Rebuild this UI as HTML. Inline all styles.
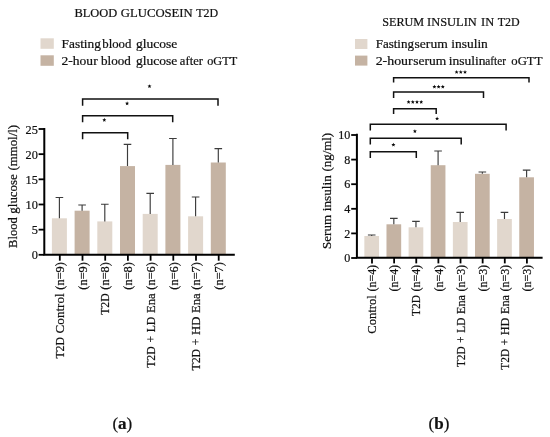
<!DOCTYPE html>
<html><head><meta charset="utf-8"><title>Figure</title>
<style>
html,body{margin:0;padding:0;background:#fff;}
body{width:550px;height:437px;overflow:hidden;font-family:"Liberation Serif",serif;}
svg{display:block;will-change:transform;}
svg text{font-family:"Liberation Serif",serif;fill:#111;}
</style></head>
<body>
<svg width="550" height="437" viewBox="0 0 550 437">
<rect width="550" height="437" fill="#ffffff"/>
<rect x="51.90" y="218.30" width="15.00" height="35.70" fill="#E1D7CD"/>
<path d="M59.40 218.30V197.50M55.60 197.50H63.20" stroke="#3c3c3c" stroke-width="1.15" fill="none"/>
<rect x="74.60" y="210.70" width="15.00" height="43.30" fill="#C5B3A3"/>
<path d="M82.10 210.70V205.00M78.30 205.00H85.90" stroke="#3c3c3c" stroke-width="1.15" fill="none"/>
<rect x="97.30" y="221.40" width="15.00" height="32.60" fill="#E1D7CD"/>
<path d="M104.80 221.40V204.20M101.00 204.20H108.60" stroke="#3c3c3c" stroke-width="1.15" fill="none"/>
<rect x="120.00" y="166.10" width="15.00" height="87.90" fill="#C5B3A3"/>
<path d="M127.50 166.10V144.40M123.70 144.40H131.30" stroke="#3c3c3c" stroke-width="1.15" fill="none"/>
<rect x="142.70" y="213.90" width="15.00" height="40.10" fill="#E1D7CD"/>
<path d="M150.20 213.90V193.40M146.40 193.40H154.00" stroke="#3c3c3c" stroke-width="1.15" fill="none"/>
<rect x="165.40" y="164.90" width="15.00" height="89.10" fill="#C5B3A3"/>
<path d="M172.90 164.90V138.50M169.10 138.50H176.70" stroke="#3c3c3c" stroke-width="1.15" fill="none"/>
<rect x="188.10" y="216.30" width="15.00" height="37.70" fill="#E1D7CD"/>
<path d="M195.60 216.30V197.00M191.80 197.00H199.40" stroke="#3c3c3c" stroke-width="1.15" fill="none"/>
<rect x="210.80" y="162.50" width="15.00" height="91.50" fill="#C5B3A3"/>
<path d="M218.30 162.50V148.60M214.50 148.60H222.10" stroke="#3c3c3c" stroke-width="1.15" fill="none"/>
<path d="M44.3 128.1V254.8H234.8" stroke="#000" stroke-width="2.0" fill="none"/>
<path d="M38.6 254.80H44.3" stroke="#000" stroke-width="1.8"/>
<text x="37.8" y="259.30" text-anchor="end" font-size="13.4" textLength="6.15" lengthAdjust="spacingAndGlyphs" stroke="#111" stroke-width="0.22">0</text>
<path d="M38.6 229.64H44.3" stroke="#000" stroke-width="1.8"/>
<text x="37.8" y="234.14" text-anchor="end" font-size="13.4" textLength="6.15" lengthAdjust="spacingAndGlyphs" stroke="#111" stroke-width="0.22">5</text>
<path d="M38.6 204.48H44.3" stroke="#000" stroke-width="1.8"/>
<text x="37.8" y="208.98" text-anchor="end" font-size="13.4" textLength="12.30" lengthAdjust="spacingAndGlyphs" stroke="#111" stroke-width="0.22">10</text>
<path d="M38.6 179.32H44.3" stroke="#000" stroke-width="1.8"/>
<text x="37.8" y="183.82" text-anchor="end" font-size="13.4" textLength="12.30" lengthAdjust="spacingAndGlyphs" stroke="#111" stroke-width="0.22">15</text>
<path d="M38.6 154.16H44.3" stroke="#000" stroke-width="1.8"/>
<text x="37.8" y="158.66" text-anchor="end" font-size="13.4" textLength="12.30" lengthAdjust="spacingAndGlyphs" stroke="#111" stroke-width="0.22">20</text>
<path d="M38.6 129.00H44.3" stroke="#000" stroke-width="1.8"/>
<text x="37.8" y="133.50" text-anchor="end" font-size="13.4" textLength="12.30" lengthAdjust="spacingAndGlyphs" stroke="#111" stroke-width="0.22">25</text>
<path d="M59.80 254.8V260.7" stroke="#000" stroke-width="1.8"/>
<path d="M82.50 254.8V260.7" stroke="#000" stroke-width="1.8"/>
<path d="M105.20 254.8V260.7" stroke="#000" stroke-width="1.8"/>
<path d="M127.90 254.8V260.7" stroke="#000" stroke-width="1.8"/>
<path d="M150.60 254.8V260.7" stroke="#000" stroke-width="1.8"/>
<path d="M173.30 254.8V260.7" stroke="#000" stroke-width="1.8"/>
<path d="M196.00 254.8V260.7" stroke="#000" stroke-width="1.8"/>
<path d="M218.70 254.8V260.7" stroke="#000" stroke-width="1.8"/>
<g transform="translate(16.60,248.20) rotate(-90)"><text x="0.30" y="0" font-size="13.0" textLength="30.56" lengthAdjust="spacingAndGlyphs" stroke="#111" stroke-width="0.22">Blood</text><text x="34.56" y="0" font-size="13.0" textLength="39.42" lengthAdjust="spacingAndGlyphs" stroke="#111" stroke-width="0.22">glucose</text><text x="77.68" y="0" font-size="13.0" textLength="45.57" lengthAdjust="spacingAndGlyphs" stroke="#111" stroke-width="0.22">(mmol/l)</text></g>
<g transform="translate(64.00,358.91) rotate(-90)"><text x="0.30" y="0" font-size="13.0" textLength="21.52" lengthAdjust="spacingAndGlyphs" stroke="#111" stroke-width="0.22">T2D</text><text x="25.52" y="0" font-size="13.0" textLength="40.04" lengthAdjust="spacingAndGlyphs" stroke="#111" stroke-width="0.22">Control</text><text x="69.26" y="0" font-size="13.0" textLength="27.55" lengthAdjust="spacingAndGlyphs" stroke="#111" stroke-width="0.22">(n=9)</text></g>
<g transform="translate(86.70,289.95) rotate(-90)"><text x="0.30" y="0" font-size="13.0" textLength="27.55" lengthAdjust="spacingAndGlyphs" stroke="#111" stroke-width="0.22">(n=9)</text></g>
<g transform="translate(109.40,315.17) rotate(-90)"><text x="0.30" y="0" font-size="13.0" textLength="21.52" lengthAdjust="spacingAndGlyphs" stroke="#111" stroke-width="0.22">T2D</text><text x="25.52" y="0" font-size="13.0" textLength="27.55" lengthAdjust="spacingAndGlyphs" stroke="#111" stroke-width="0.22">(n=8)</text></g>
<g transform="translate(132.10,289.95) rotate(-90)"><text x="0.30" y="0" font-size="13.0" textLength="27.55" lengthAdjust="spacingAndGlyphs" stroke="#111" stroke-width="0.22">(n=8)</text></g>
<g transform="translate(154.80,368.12) rotate(-90)"><text x="0.30" y="0" font-size="13.0" textLength="21.52" lengthAdjust="spacingAndGlyphs" stroke="#111" stroke-width="0.22">T2D</text><text x="25.52" y="0" font-size="13.0" textLength="6.57" lengthAdjust="spacingAndGlyphs" stroke="#111" stroke-width="0.22">+</text><text x="35.80" y="0" font-size="13.0" textLength="15.66" lengthAdjust="spacingAndGlyphs" stroke="#111" stroke-width="0.22">LD</text><text x="55.15" y="0" font-size="13.0" textLength="19.62" lengthAdjust="spacingAndGlyphs" stroke="#111" stroke-width="0.22">Ena</text><text x="78.47" y="0" font-size="13.0" textLength="27.55" lengthAdjust="spacingAndGlyphs" stroke="#111" stroke-width="0.22">(n=6)</text></g>
<g transform="translate(177.50,289.95) rotate(-90)"><text x="0.30" y="0" font-size="13.0" textLength="27.55" lengthAdjust="spacingAndGlyphs" stroke="#111" stroke-width="0.22">(n=6)</text></g>
<g transform="translate(200.20,370.77) rotate(-90)"><text x="0.30" y="0" font-size="13.0" textLength="21.52" lengthAdjust="spacingAndGlyphs" stroke="#111" stroke-width="0.22">T2D</text><text x="25.52" y="0" font-size="13.0" textLength="6.57" lengthAdjust="spacingAndGlyphs" stroke="#111" stroke-width="0.22">+</text><text x="35.80" y="0" font-size="13.0" textLength="18.31" lengthAdjust="spacingAndGlyphs" stroke="#111" stroke-width="0.22">HD</text><text x="57.80" y="0" font-size="13.0" textLength="19.62" lengthAdjust="spacingAndGlyphs" stroke="#111" stroke-width="0.22">Ena</text><text x="81.12" y="0" font-size="13.0" textLength="27.55" lengthAdjust="spacingAndGlyphs" stroke="#111" stroke-width="0.22">(n=7)</text></g>
<g transform="translate(222.90,289.95) rotate(-90)"><text x="0.30" y="0" font-size="13.0" textLength="27.55" lengthAdjust="spacingAndGlyphs" stroke="#111" stroke-width="0.22">(n=7)</text></g>
<path d="M82.60 105.70V99.10H218.00V105.70" stroke="#111" stroke-width="1.5" fill="none"/>
<path d="M82.60 122.30V115.70H172.70V122.30" stroke="#111" stroke-width="1.5" fill="none"/>
<path d="M82.60 139.30V132.70H127.70V139.30" stroke="#111" stroke-width="1.5" fill="none"/>
<polygon points="149.50,84.15 150.06,85.48 151.50,85.60 150.40,86.54 150.73,87.95 149.50,87.20 148.27,87.95 148.60,86.54 147.50,85.60 148.94,85.48" fill="#0a0a0a"/>
<polygon points="127.10,101.35 127.66,102.68 129.10,102.80 128.00,103.74 128.33,105.15 127.10,104.40 125.87,105.15 126.20,103.74 125.10,102.80 126.54,102.68" fill="#0a0a0a"/>
<polygon points="104.30,117.85 104.86,119.18 106.30,119.30 105.20,120.24 105.53,121.65 104.30,120.90 103.07,121.65 103.40,120.24 102.30,119.30 103.74,119.18" fill="#0a0a0a"/>
<text x="74.45" y="16.70" font-size="13.0" textLength="42.80" lengthAdjust="spacingAndGlyphs" stroke="#111" stroke-width="0.22">BLOOD</text><text x="120.85" y="16.70" font-size="13.0" textLength="71.90" lengthAdjust="spacingAndGlyphs" stroke="#111" stroke-width="0.22">GLUCOSEIN</text><text x="196.25" y="16.70" font-size="13.0" textLength="21.90" lengthAdjust="spacingAndGlyphs" stroke="#111" stroke-width="0.22">T2D</text>
<rect x="40.5" y="38.3" width="13.3" height="10.5" fill="#E1D7CD"/>
<rect x="40.5" y="55.3" width="13.3" height="10.5" fill="#C5B3A3"/>
<text x="61.55" y="48.00" font-size="13.0" textLength="39.40" lengthAdjust="spacingAndGlyphs" stroke="#111" stroke-width="0.22">Fasting</text><text x="102.25" y="48.00" font-size="13.0" textLength="29.20" lengthAdjust="spacingAndGlyphs" stroke="#111" stroke-width="0.22">blood</text><text x="135.95" y="48.00" font-size="13.0" textLength="41.40" lengthAdjust="spacingAndGlyphs" stroke="#111" stroke-width="0.22">glucose</text>
<text x="61.55" y="64.90" font-size="13.0" textLength="36.10" lengthAdjust="spacingAndGlyphs" stroke="#111" stroke-width="0.22">2-hour</text><text x="101.05" y="64.90" font-size="13.0" textLength="29.90" lengthAdjust="spacingAndGlyphs" stroke="#111" stroke-width="0.22">blood</text><text x="135.95" y="64.90" font-size="13.0" textLength="41.40" lengthAdjust="spacingAndGlyphs" stroke="#111" stroke-width="0.22">glucose</text><text x="179.85" y="64.90" font-size="13.0" textLength="23.10" lengthAdjust="spacingAndGlyphs" stroke="#111" stroke-width="0.22">after</text><text x="207.15" y="64.90" font-size="13.0" textLength="30.00" lengthAdjust="spacingAndGlyphs" stroke="#111" stroke-width="0.22">oGTT</text>
<text x="122.3" y="429" text-anchor="middle" font-size="17" stroke="#111" stroke-width="0.22">(<tspan font-weight="bold">a</tspan>)</text>
<rect x="364.35" y="236.00" width="14.70" height="21.00" fill="#E1D7CD"/>
<path d="M371.70 236.00V235.00M367.90 235.00H375.50" stroke="#3c3c3c" stroke-width="1.15" fill="none"/>
<rect x="386.48" y="224.30" width="14.70" height="32.70" fill="#C5B3A3"/>
<path d="M393.83 224.30V218.30M390.03 218.30H397.63" stroke="#3c3c3c" stroke-width="1.15" fill="none"/>
<rect x="408.61" y="227.30" width="14.70" height="29.70" fill="#E1D7CD"/>
<path d="M415.96 227.30V221.30M412.16 221.30H419.76" stroke="#3c3c3c" stroke-width="1.15" fill="none"/>
<rect x="430.74" y="165.20" width="14.70" height="91.80" fill="#C5B3A3"/>
<path d="M438.09 165.20V151.00M434.29 151.00H441.89" stroke="#3c3c3c" stroke-width="1.15" fill="none"/>
<rect x="452.87" y="222.00" width="14.70" height="35.00" fill="#E1D7CD"/>
<path d="M460.22 222.00V212.40M456.42 212.40H464.02" stroke="#3c3c3c" stroke-width="1.15" fill="none"/>
<rect x="475.00" y="173.80" width="14.70" height="83.20" fill="#C5B3A3"/>
<path d="M482.35 173.80V172.00M478.55 172.00H486.15" stroke="#3c3c3c" stroke-width="1.15" fill="none"/>
<rect x="497.13" y="219.00" width="14.70" height="38.00" fill="#E1D7CD"/>
<path d="M504.48 219.00V212.40M500.68 212.40H508.28" stroke="#3c3c3c" stroke-width="1.15" fill="none"/>
<rect x="519.26" y="177.30" width="14.70" height="79.70" fill="#C5B3A3"/>
<path d="M526.61 177.30V170.10M522.81 170.10H530.41" stroke="#3c3c3c" stroke-width="1.15" fill="none"/>
<path d="M356.9 133.8V257.8H542.6" stroke="#000" stroke-width="2.0" fill="none"/>
<path d="M351.2 258.00H356.9" stroke="#000" stroke-width="1.8"/>
<text x="350.3" y="262.10" text-anchor="end" font-size="13.0" textLength="6.05" lengthAdjust="spacingAndGlyphs" stroke="#111" stroke-width="0.22">0</text>
<path d="M351.2 233.40H356.9" stroke="#000" stroke-width="1.8"/>
<text x="350.3" y="237.50" text-anchor="end" font-size="13.0" textLength="6.05" lengthAdjust="spacingAndGlyphs" stroke="#111" stroke-width="0.22">2</text>
<path d="M351.2 208.80H356.9" stroke="#000" stroke-width="1.8"/>
<text x="350.3" y="212.90" text-anchor="end" font-size="13.0" textLength="6.05" lengthAdjust="spacingAndGlyphs" stroke="#111" stroke-width="0.22">4</text>
<path d="M351.2 184.20H356.9" stroke="#000" stroke-width="1.8"/>
<text x="350.3" y="188.30" text-anchor="end" font-size="13.0" textLength="6.05" lengthAdjust="spacingAndGlyphs" stroke="#111" stroke-width="0.22">6</text>
<path d="M351.2 159.60H356.9" stroke="#000" stroke-width="1.8"/>
<text x="350.3" y="163.70" text-anchor="end" font-size="13.0" textLength="6.05" lengthAdjust="spacingAndGlyphs" stroke="#111" stroke-width="0.22">8</text>
<path d="M351.2 135.00H356.9" stroke="#000" stroke-width="1.8"/>
<text x="350.3" y="139.10" text-anchor="end" font-size="13.0" textLength="12.10" lengthAdjust="spacingAndGlyphs" stroke="#111" stroke-width="0.22">10</text>
<path d="M372.00 257.8V263.40000000000003" stroke="#000" stroke-width="1.8"/>
<path d="M394.13 257.8V263.40000000000003" stroke="#000" stroke-width="1.8"/>
<path d="M416.26 257.8V263.40000000000003" stroke="#000" stroke-width="1.8"/>
<path d="M438.39 257.8V263.40000000000003" stroke="#000" stroke-width="1.8"/>
<path d="M460.52 257.8V263.40000000000003" stroke="#000" stroke-width="1.8"/>
<path d="M482.65 257.8V263.40000000000003" stroke="#000" stroke-width="1.8"/>
<path d="M504.78 257.8V263.40000000000003" stroke="#000" stroke-width="1.8"/>
<path d="M526.91 257.8V263.40000000000003" stroke="#000" stroke-width="1.8"/>
<g transform="translate(331.20,249.20) rotate(-90)"><text x="0.30" y="0" font-size="13.0" textLength="33.92" lengthAdjust="spacingAndGlyphs" stroke="#111" stroke-width="0.22">Serum</text><text x="37.92" y="0" font-size="13.0" textLength="36.07" lengthAdjust="spacingAndGlyphs" stroke="#111" stroke-width="0.22">insulin</text><text x="77.69" y="0" font-size="13.0" textLength="38.59" lengthAdjust="spacingAndGlyphs" stroke="#111" stroke-width="0.22">(ng/ml)</text></g>
<g transform="translate(376.20,334.09) rotate(-90)"><text x="0.30" y="0" font-size="12.6" textLength="38.68" lengthAdjust="spacingAndGlyphs" stroke="#111" stroke-width="0.22">Control</text><text x="42.58" y="0" font-size="12.6" textLength="26.61" lengthAdjust="spacingAndGlyphs" stroke="#111" stroke-width="0.22">(n=4)</text></g>
<g transform="translate(398.33,291.81) rotate(-90)"><text x="0.30" y="0" font-size="12.6" textLength="26.61" lengthAdjust="spacingAndGlyphs" stroke="#111" stroke-width="0.22">(n=4)</text></g>
<g transform="translate(420.46,316.19) rotate(-90)"><text x="0.30" y="0" font-size="12.6" textLength="20.78" lengthAdjust="spacingAndGlyphs" stroke="#111" stroke-width="0.22">T2D</text><text x="24.68" y="0" font-size="12.6" textLength="26.61" lengthAdjust="spacingAndGlyphs" stroke="#111" stroke-width="0.22">(n=4)</text></g>
<g transform="translate(442.59,291.81) rotate(-90)"><text x="0.30" y="0" font-size="12.6" textLength="26.61" lengthAdjust="spacingAndGlyphs" stroke="#111" stroke-width="0.22">(n=4)</text></g>
<g transform="translate(464.72,367.37) rotate(-90)"><text x="0.30" y="0" font-size="12.6" textLength="20.78" lengthAdjust="spacingAndGlyphs" stroke="#111" stroke-width="0.22">T2D</text><text x="24.68" y="0" font-size="12.6" textLength="6.33" lengthAdjust="spacingAndGlyphs" stroke="#111" stroke-width="0.22">+</text><text x="34.61" y="0" font-size="12.6" textLength="15.11" lengthAdjust="spacingAndGlyphs" stroke="#111" stroke-width="0.22">LD</text><text x="53.32" y="0" font-size="12.6" textLength="18.94" lengthAdjust="spacingAndGlyphs" stroke="#111" stroke-width="0.22">Ena</text><text x="75.86" y="0" font-size="12.6" textLength="26.61" lengthAdjust="spacingAndGlyphs" stroke="#111" stroke-width="0.22">(n=3)</text></g>
<g transform="translate(486.85,291.81) rotate(-90)"><text x="0.30" y="0" font-size="12.6" textLength="26.61" lengthAdjust="spacingAndGlyphs" stroke="#111" stroke-width="0.22">(n=3)</text></g>
<g transform="translate(508.98,369.93) rotate(-90)"><text x="0.30" y="0" font-size="12.6" textLength="20.78" lengthAdjust="spacingAndGlyphs" stroke="#111" stroke-width="0.22">T2D</text><text x="24.68" y="0" font-size="12.6" textLength="6.33" lengthAdjust="spacingAndGlyphs" stroke="#111" stroke-width="0.22">+</text><text x="34.61" y="0" font-size="12.6" textLength="17.67" lengthAdjust="spacingAndGlyphs" stroke="#111" stroke-width="0.22">HD</text><text x="55.89" y="0" font-size="12.6" textLength="18.94" lengthAdjust="spacingAndGlyphs" stroke="#111" stroke-width="0.22">Ena</text><text x="78.43" y="0" font-size="12.6" textLength="26.61" lengthAdjust="spacingAndGlyphs" stroke="#111" stroke-width="0.22">(n=3)</text></g>
<g transform="translate(531.11,291.81) rotate(-90)"><text x="0.30" y="0" font-size="12.6" textLength="26.61" lengthAdjust="spacingAndGlyphs" stroke="#111" stroke-width="0.22">(n=3)</text></g>
<path d="M393.60 82.50V77.70H529.00V82.50" stroke="#111" stroke-width="1.5" fill="none"/>
<path d="M393.60 97.90V92.00H483.50V97.90" stroke="#111" stroke-width="1.5" fill="none"/>
<path d="M393.60 114.10V108.80H436.20V114.10" stroke="#111" stroke-width="1.5" fill="none"/>
<path d="M370.30 130.50V124.20H506.10V130.50" stroke="#111" stroke-width="1.5" fill="none"/>
<path d="M370.30 144.60V138.30H461.20V144.60" stroke="#111" stroke-width="1.5" fill="none"/>
<path d="M370.30 157.90V151.70H416.30V157.90" stroke="#111" stroke-width="1.5" fill="none"/>
<polygon points="456.60,70.05 457.16,71.38 458.60,71.50 457.50,72.44 457.83,73.85 456.60,73.10 455.37,73.85 455.70,72.44 454.60,71.50 456.04,71.38" fill="#0a0a0a"/><polygon points="460.80,70.05 461.36,71.38 462.80,71.50 461.70,72.44 462.03,73.85 460.80,73.10 459.57,73.85 459.90,72.44 458.80,71.50 460.24,71.38" fill="#0a0a0a"/><polygon points="465.00,70.05 465.56,71.38 467.00,71.50 465.90,72.44 466.23,73.85 465.00,73.10 463.77,73.85 464.10,72.44 463.00,71.50 464.44,71.38" fill="#0a0a0a"/>
<polygon points="434.40,84.65 434.96,85.98 436.40,86.10 435.30,87.04 435.63,88.45 434.40,87.70 433.17,88.45 433.50,87.04 432.40,86.10 433.84,85.98" fill="#0a0a0a"/><polygon points="438.60,84.65 439.16,85.98 440.60,86.10 439.50,87.04 439.83,88.45 438.60,87.70 437.37,88.45 437.70,87.04 436.60,86.10 438.04,85.98" fill="#0a0a0a"/><polygon points="442.80,84.65 443.36,85.98 444.80,86.10 443.70,87.04 444.03,88.45 442.80,87.70 441.57,88.45 441.90,87.04 440.80,86.10 442.24,85.98" fill="#0a0a0a"/>
<polygon points="408.60,99.95 409.16,101.28 410.60,101.40 409.50,102.34 409.83,103.75 408.60,103.00 407.37,103.75 407.70,102.34 406.60,101.40 408.04,101.28" fill="#0a0a0a"/><polygon points="412.80,99.95 413.36,101.28 414.80,101.40 413.70,102.34 414.03,103.75 412.80,103.00 411.57,103.75 411.90,102.34 410.80,101.40 412.24,101.28" fill="#0a0a0a"/><polygon points="417.00,99.95 417.56,101.28 419.00,101.40 417.90,102.34 418.23,103.75 417.00,103.00 415.77,103.75 416.10,102.34 415.00,101.40 416.44,101.28" fill="#0a0a0a"/><polygon points="421.20,99.95 421.76,101.28 423.20,101.40 422.10,102.34 422.43,103.75 421.20,103.00 419.97,103.75 420.30,102.34 419.20,101.40 420.64,101.28" fill="#0a0a0a"/>
<polygon points="437.10,116.55 437.66,117.88 439.10,118.00 438.00,118.94 438.33,120.35 437.10,119.60 435.87,120.35 436.20,118.94 435.10,118.00 436.54,117.88" fill="#0a0a0a"/>
<polygon points="414.90,129.15 415.46,130.48 416.90,130.60 415.80,131.54 416.13,132.95 414.90,132.20 413.67,132.95 414.00,131.54 412.90,130.60 414.34,130.48" fill="#0a0a0a"/>
<polygon points="393.40,142.75 393.96,144.08 395.40,144.20 394.30,145.14 394.63,146.55 393.40,145.80 392.17,146.55 392.50,145.14 391.40,144.20 392.84,144.08" fill="#0a0a0a"/>
<text x="382.25" y="25.50" font-size="13.0" textLength="41.90" lengthAdjust="spacingAndGlyphs" stroke="#111" stroke-width="0.22">SERUM</text><text x="427.05" y="25.50" font-size="13.0" textLength="49.70" lengthAdjust="spacingAndGlyphs" stroke="#111" stroke-width="0.22">INSULIN</text><text x="481.05" y="25.50" font-size="13.0" textLength="13.10" lengthAdjust="spacingAndGlyphs" stroke="#111" stroke-width="0.22">IN</text><text x="497.75" y="25.50" font-size="13.0" textLength="21.90" lengthAdjust="spacingAndGlyphs" stroke="#111" stroke-width="0.22">T2D</text>
<rect x="355" y="39" width="12.4" height="10" fill="#E1D7CD"/>
<rect x="355" y="55.6" width="12.4" height="10" fill="#C5B3A3"/>
<text x="375.65" y="48.40" font-size="13.0" textLength="38.40" lengthAdjust="spacingAndGlyphs" stroke="#111" stroke-width="0.22">Fasting</text><text x="414.55" y="48.40" font-size="13.0" textLength="33.20" lengthAdjust="spacingAndGlyphs" stroke="#111" stroke-width="0.22">serum</text><text x="451.25" y="48.40" font-size="13.0" textLength="36.60" lengthAdjust="spacingAndGlyphs" stroke="#111" stroke-width="0.22">insulin</text>
<text x="375.65" y="64.70" font-size="13.0" textLength="37.00" lengthAdjust="spacingAndGlyphs" stroke="#111" stroke-width="0.22">2-hour</text><text x="413.25" y="64.70" font-size="13.0" textLength="33.00" lengthAdjust="spacingAndGlyphs" stroke="#111" stroke-width="0.22">serum</text><text x="448.65" y="64.70" font-size="13.0" textLength="36.80" lengthAdjust="spacingAndGlyphs" stroke="#111" stroke-width="0.22">insulin</text><text x="485.25" y="64.70" font-size="13.0" textLength="20.80" lengthAdjust="spacingAndGlyphs" stroke="#111" stroke-width="0.22">after</text><text x="511.25" y="64.70" font-size="13.0" textLength="31.20" lengthAdjust="spacingAndGlyphs" stroke="#111" stroke-width="0.22">oGTT</text>
<text x="439" y="429" text-anchor="middle" font-size="17" stroke="#111" stroke-width="0.22">(<tspan font-weight="bold">b</tspan>)</text>
</svg>
</body></html>
